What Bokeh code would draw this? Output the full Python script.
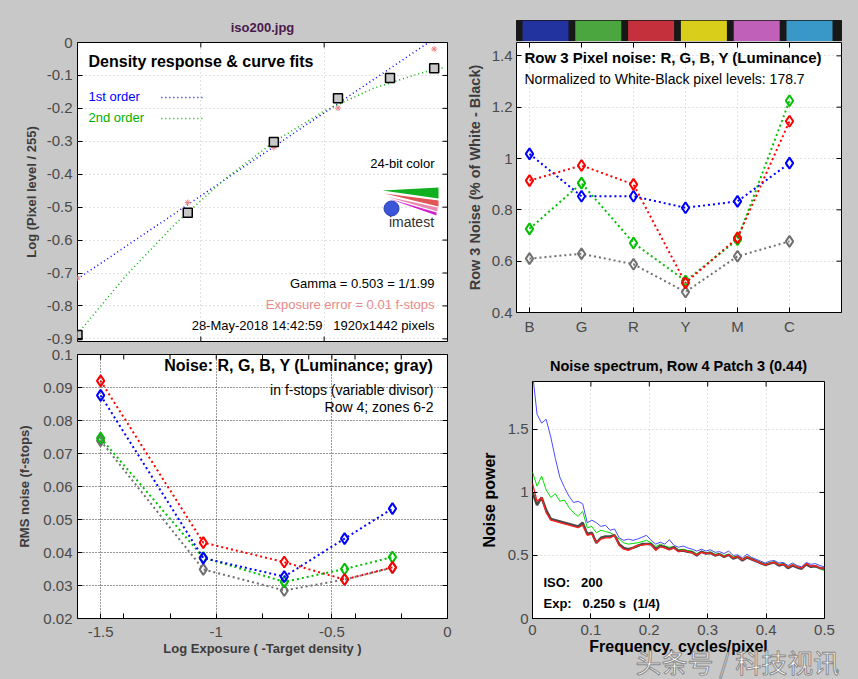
import math
from bokeh.plotting import figure
from bokeh.models import Range1d, FixedTicker, NumeralTickFormatter, Label, Title
from bokeh.layouts import row, column
from bokeh.embed import file_html
from bokeh.resources import INLINE

BG = "#c8c8c8"
FONT = "Liberation Sans"
TICK_COLOR = "#4a4a4a"

# ---------------- data ----------------
# Panel 1: density response (log exposure vs log pixel level)
dens_x = [-1.500, -1.053, -0.704, -0.444, -0.233, -0.054]
dens_y = [-0.888, -0.517, -0.302, -0.169, -0.108, -0.078]
exp_x = [-1.500, -1.053, -0.704, -0.444, -0.054]
exp_y = [-0.715, -0.486, -0.319, -0.199, -0.020]
fit1_x = [-1.500, -0.077, -0.050]
fit1_y = [-0.718, 0.000, 0.000]
fit2_x = [-1.5, -1.3, -1.1, -0.9, -0.7, -0.5, -0.3, -0.1, -0.01]
fit2_y = [-0.885, -0.705, -0.548, -0.413, -0.300, -0.208, -0.139, -0.091, -0.076]
p1_xticks = [-1.0, -0.5]
p1_yticks = [0, -0.1, -0.2, -0.3, -0.4, -0.5, -0.6, -0.7, -0.8, -0.9]

# Panel 2: row 3 pixel noise per color patch
patch_names = ["B", "G", "R", "Y", "M", "C"]
patch_pos = [1, 2, 3, 4, 5, 6]
patch_colors = ["#2233a0", "#4ca640", "#c4303c", "#d9cf1a", "#c060b8", "#3a98c8"]
row3_r = [0.914, 0.973, 0.899, 0.515, 0.691, 1.145]
row3_g = [0.726, 0.904, 0.671, 0.523, 0.684, 1.225]
row3_b = [1.018, 0.853, 0.853, 0.808, 0.833, 0.982]
row3_y = [0.610, 0.629, 0.588, 0.480, 0.619, 0.677]
p2_yticks = [0.4, 0.6, 0.8, 1.0, 1.2, 1.4]

# Panel 3: RMS noise in f-stops
zone_x = [-1.500, -1.056, -0.706, -0.445, -0.238]
noise_r = [0.0920, 0.0430, 0.0371, 0.0318, 0.0355]
noise_g = [0.0747, 0.0385, 0.0311, 0.0350, 0.0386]
noise_b = [0.0876, 0.0383, 0.0327, 0.0442, 0.0533]
noise_y = [0.0739, 0.0349, 0.0285, 0.0318, 0.0354]
p3_xticks = [-1.5, -1.0, -0.5, 0.0]
p3_xminor = [-1.4, -1.2, -0.8, -0.6, -0.4, -0.2]
p3_yticks = [0.02, 0.03, 0.04, 0.05, 0.06, 0.07, 0.08, 0.09, 0.1]

# Panel 4: noise spectrum
freq = [0.0000, 0.0078, 0.0156, 0.0234, 0.0313, 0.0391, 0.0469, 0.0547, 0.0625, 0.0703,
        0.0781, 0.0859, 0.0938, 0.1016, 0.1094, 0.1172, 0.1250, 0.1328, 0.1406, 0.1484,
        0.1563, 0.1641, 0.1719, 0.1797, 0.1875, 0.1953, 0.2031, 0.2109, 0.2188, 0.2266,
        0.2344, 0.2422, 0.2500, 0.2578, 0.2656, 0.2734, 0.2813, 0.2891, 0.2969, 0.3047,
        0.3125, 0.3203, 0.3281, 0.3359, 0.3438, 0.3516, 0.3594, 0.3672, 0.3750, 0.3828,
        0.3906, 0.3984, 0.4063, 0.4141, 0.4219, 0.4297, 0.4375, 0.4453, 0.4531, 0.4609,
        0.4688, 0.4766, 0.4844, 0.4922, 0.5000]
spec_r = [1.07, 0.93, 0.96, 0.84, 0.78, 0.77, 0.76, 0.75, 0.74, 0.73,
          0.72, 0.74, 0.66, 0.67, 0.60, 0.63, 0.64, 0.64, 0.66, 0.58,
          0.55, 0.54, 0.56, 0.58, 0.58, 0.59, 0.585, 0.54, 0.57, 0.56,
          0.545, 0.56, 0.53, 0.54, 0.53, 0.52, 0.505, 0.525, 0.515, 0.52,
          0.50, 0.51, 0.49, 0.505, 0.48, 0.49, 0.465, 0.49, 0.47, 0.455,
          0.44, 0.425, 0.44, 0.445, 0.425, 0.43, 0.405, 0.425, 0.41, 0.40,
          0.435, 0.415, 0.42, 0.40, 0.40]
spec_y = [1.00, 0.90, 0.96, 0.86, 0.79, 0.78, 0.77, 0.76, 0.75, 0.74,
          0.73, 0.76, 0.67, 0.68, 0.60, 0.64, 0.65, 0.65, 0.66, 0.59,
          0.56, 0.55, 0.56, 0.575, 0.59, 0.59, 0.59, 0.55, 0.575, 0.565,
          0.55, 0.565, 0.535, 0.54, 0.53, 0.525, 0.50, 0.53, 0.515, 0.52,
          0.50, 0.51, 0.488, 0.505, 0.475, 0.49, 0.46, 0.485, 0.47, 0.455,
          0.44, 0.425, 0.435, 0.445, 0.42, 0.43, 0.40, 0.42, 0.405, 0.395,
          0.43, 0.41, 0.415, 0.40, 0.395]
spec_g = [1.16, 1.05, 1.13, 1.02, 0.96, 0.99, 0.93, 0.94, 0.88, 0.84,
          0.81, 0.85, 0.72, 0.73, 0.68, 0.70, 0.69, 0.68, 0.66, 0.63,
          0.60, 0.59, 0.595, 0.60, 0.61, 0.62, 0.60, 0.57, 0.59, 0.575,
          0.565, 0.57, 0.545, 0.55, 0.54, 0.535, 0.515, 0.535, 0.52, 0.53,
          0.51, 0.515, 0.50, 0.51, 0.49, 0.495, 0.47, 0.495, 0.475, 0.46,
          0.445, 0.43, 0.445, 0.45, 0.43, 0.435, 0.41, 0.43, 0.41, 0.40,
          0.435, 0.415, 0.42, 0.395, 0.38]
spec_b = [1.95, 1.62, 1.55, 1.58, 1.44, 1.27, 1.12, 1.04, 0.97, 0.92,
          0.93, 0.91, 0.76, 0.78, 0.76, 0.73, 0.74, 0.70, 0.71, 0.64,
          0.62, 0.63, 0.62, 0.63, 0.645, 0.66, 0.62, 0.59, 0.605, 0.59,
          0.625, 0.58, 0.565, 0.575, 0.56, 0.55, 0.535, 0.55, 0.535, 0.545,
          0.525, 0.53, 0.515, 0.535, 0.50, 0.505, 0.48, 0.51, 0.485, 0.47,
          0.455, 0.44, 0.455, 0.46, 0.44, 0.445, 0.42, 0.44, 0.42, 0.41,
          0.445, 0.43, 0.435, 0.42, 0.41]
p4_xticks = [0, 0.1, 0.2, 0.3, 0.4, 0.5]
p4_yticks = [0, 0.5, 1.0, 1.5]


# ---------------- helpers ----------------
def make_fig(w, h, xr, yr, ml, mr, mt, mb, title=None):
    p = figure(width=w, height=h, x_range=Range1d(*xr), y_range=Range1d(*yr),
               output_backend="svg", toolbar_location=None, title=title,
               min_border_left=ml, min_border_right=mr, min_border_top=mt, min_border_bottom=mb)
    p.border_fill_color = BG
    p.background_fill_color = "white"
    p.outline_line_color = "black"
    p.outline_line_width = 1
    try:
        p.frame_align = False
    except Exception:
        pass
    return p


def style_axis(ax, ticker, fmt="0.[00]", size="15px"):
    ax.ticker = ticker
    ax.formatter = NumeralTickFormatter(format=fmt)
    ax.axis_line_color = None
    ax.major_tick_in = 5
    ax.major_tick_out = 0
    ax.minor_tick_in = 5
    ax.minor_tick_out = 0
    ax.major_tick_line_color = "black"
    ax.minor_tick_line_color = "black"
    ax.major_label_text_font = FONT
    ax.major_label_text_font_size = size
    ax.major_label_text_color = TICK_COLOR
    ax.major_label_standoff = 5
    ax.axis_label_text_font = FONT
    ax.axis_label_text_font_style = "bold"
    ax.axis_label_text_font_size = "13px"
    ax.axis_label_text_color = "#3c3c3c"
    ax.axis_label_standoff = 6


def mirror_ticks(p, xticks, xedge_y, yticks, yedge_x):
    # short inward tick marks along the other frame edges (clipped to the frame)
    if xticks:
        p.scatter(xticks, [xedge_y] * len(xticks), marker="dash", size=10, angle=math.pi / 2,
                  line_color="black", line_width=1)
    if yticks:
        p.scatter([yedge_x] * len(yticks), yticks, marker="dash", size=10,
                  line_color="black", line_width=1)


def style_grid(p, xt, yt, color, dash):
    p.xgrid.ticker = xt
    p.ygrid.ticker = yt
    for g in (p.xgrid, p.ygrid):
        g.grid_line_color = color
        g.grid_line_dash = dash
        g.grid_line_width = 1


def add_text(p, x, y, text, size="13px", color="black", bold=False, align="left", font=FONT, **kw):
    p.add_layout(Label(x=x, y=y, text=text, text_font=font, text_font_size=size,
                       text_color=color, text_font_style="bold" if bold else "normal",
                       text_align=align, text_baseline="middle", **kw))


# ---------------- panel 1: density response ----------------
p1 = make_fig(458, 346, (-1.5, 0), (-0.908, 0), 77, 11, 42, 5, title="iso200.jpg")
p1.title.align = "center"
p1.title.text_font = FONT
p1.title.text_font_size = "13px"
p1.title.text_font_style = "bold"
p1.title.text_color = "#4b1a4b"
p1.title.standoff = 15
p1.xaxis.visible = False
yt1 = FixedTicker(ticks=p1_yticks)
style_axis(p1.yaxis[0], yt1, fmt="0.[0]")
p1.yaxis[0].axis_label = "Log (Pixel level / 255)"
p1.yaxis[0].axis_label_standoff = 5
style_grid(p1, FixedTicker(ticks=p1_xticks), yt1, "#c4c4c4", "1 3")
mirror_ticks(p1, p1_xticks, 0, p1_yticks, 0)
mirror_ticks(p1, p1_xticks, -0.908, None, None)

p1.line(fit1_x, fit1_y, line_color="#0000ff", line_width=1.5, line_dash="1 3")
p1.line(fit2_x, fit2_y, line_color="#00b000", line_width=1.5, line_dash="1 3")
p1.scatter(exp_x, exp_y, marker="asterisk", size=6, line_color="#f08080", line_width=1)
p1.scatter(dens_x, dens_y, marker="square", size=9, fill_color="#c8c8c8",
           line_color="black", line_width=1.5)

add_text(p1, -1.4554, -0.0577, "Density response & curve fits", size="16px", bold=True)
add_text(p1, -1.4554, -0.164, "1st order", size="13px", color="#0000ff")
add_text(p1, -1.4554, -0.2277, "2nd order", size="13px", color="#00b000")
p1.line([-1.160, -0.993], [-0.167, -0.167], line_color="#0000ff", line_width=1.5, line_dash="1 3")
p1.line([-1.160, -0.993], [-0.231, -0.231], line_color="#00b000", line_width=1.5, line_dash="1 3")
add_text(p1, -0.0527, -0.3674, "24-bit color", size="13px", align="right")
add_text(p1, -0.0527, -0.7318, "Gamma = 0.503 = 1/1.99", size="13px", align="right")
add_text(p1, -0.0527, -0.7956, "Exposure error = 0.01 f-stops", size="13px",
         color="#e88a8a", align="right")
add_text(p1, -0.0527, -0.8593, "28-May-2018 14:42:59\u00a0\u00a0\u00a01920x1442 pixels",
         size="13px", align="right")

# imatest logo (decoration)
p1.patch([-0.2635, -0.0365, -0.0365], [-0.4494, -0.4403, -0.4737], color="#10b020", line_width=0)
p1.patch([-0.2554, -0.0365, -0.0365], [-0.4585, -0.4798, -0.4980], color="#e05555", line_width=0)
p1.patch([-0.2473, -0.0406, -0.0406], [-0.4676, -0.5010, -0.5132], color="#e888b0", line_width=0)
p1.patch([-0.2392, -0.0446, -0.0446], [-0.4737, -0.5162, -0.5253], color="#d020d0", line_width=0)
p1.scatter([-0.227], [-0.504], marker="circle", size=15, fill_color="#3a55d8", line_color="#2a40b0")
add_text(p1, -0.146, -0.5466, "imatest", size="14px", color="#303030", align="center")

# ---------------- colour bar ----------------
pc = figure(width=400, height=41, x_range=Range1d(0, 6.155), y_range=Range1d(0, 1),
            output_backend="svg", toolbar_location=None, title=None,
            x_axis_location=None, y_axis_location=None,
            min_border_left=58, min_border_right=17, min_border_top=20, min_border_bottom=0)
try:
    pc.frame_align = False
except Exception:
    pass
pc.border_fill_color = BG
pc.background_fill_color = "#181818"
pc.outline_line_color = "#181818"
pc.xgrid.visible = False
pc.ygrid.visible = False
pc.rect(x=[0.549 + i for i in range(6)], y=[0.5] * 6, width=0.871, height=1.0,
        fill_color=patch_colors, line_color=None)

# ---------------- panel 2: row 3 pixel noise ----------------
p2 = make_fig(400, 302, (0.75, 7), (0.4, 1.452), 58, 17, 1, 31)
xt2 = FixedTicker(ticks=patch_pos)
yt2 = FixedTicker(ticks=p2_yticks)
style_axis(p2.xaxis[0], xt2)
p2.xaxis[0].major_label_overrides = {pos: name for pos, name in zip(patch_pos, patch_names)}
style_axis(p2.yaxis[0], yt2, fmt="0.[0]")
p2.yaxis[0].major_label_standoff = 4
p2.yaxis[0].axis_label = "Row 3 Noise (% of White - Black)"
p2.yaxis[0].axis_label_text_font_size = "14.5px"
style_grid(p2, xt2, yt2, "#c4c4c4", "1 3")
mirror_ticks(p2, patch_pos, 1.452, p2_yticks, 7)

for vals, col in ((row3_y, "#707070"), (row3_b, "#0000ff"), (row3_g, "#00c000"), (row3_r, "#ff0000")):
    p2.line(patch_pos, vals, line_color=col, line_width=2, line_dash="2 3")
    p2.scatter(patch_pos, vals, marker="diamond", size=11, fill_alpha=0,
               line_color=col, line_width=2)

add_text(p2, 0.904, 1.394, "Row 3 Pixel noise: R, G, B, Y (Luminance)", size="15px", bold=True)
add_text(p2, 0.904, 1.308, "Normalized to White-Black pixel levels: 178.7", size="14px")

# ---------------- panel 3: RMS noise ----------------
p3 = make_fig(458, 333, (-1.6, 0), (0.02, 0.1), 77, 11, 8, 61)
xt3 = FixedTicker(ticks=p3_xticks, minor_ticks=p3_xminor)
yt3 = FixedTicker(ticks=p3_yticks)
style_axis(p3.xaxis[0], xt3, fmt="0.[0]")
p3.xaxis[0].axis_label = "Log Exposure ( -Target density )"
p3.xaxis[0].major_label_standoff = 8
p3.xaxis[0].axis_label_standoff = 1
style_axis(p3.yaxis[0], yt3, fmt="0.[00]")
p3.yaxis[0].axis_label = "RMS noise (f-stops)"
p3.yaxis[0].axis_label_standoff = 8
style_grid(p3, FixedTicker(ticks=[-1.5, -1.0, -0.5]), yt3, "#303030", "1 2")
mirror_ticks(p3, p3_xticks + p3_xminor, 0.1, p3_yticks, 0)

for vals, col in ((noise_y, "#707070"), (noise_g, "#00c000"), (noise_b, "#0000ff"), (noise_r, "#ff0000")):
    p3.line(zone_x, vals, line_color=col, line_width=2, line_dash="2 3")
    p3.scatter(zone_x, vals, marker="diamond", size=11, fill_alpha=0,
               line_color=col, line_width=2)

add_text(p3, -0.0605, 0.0967, "Noise: R, G, B, Y (Luminance; gray)", size="16px", bold=True, align="right")
add_text(p3, -0.0605, 0.0891, "in f-stops (variable divisor)", size="14px", align="right")
add_text(p3, -0.0605, 0.0840, "Row 4; zones 6-2", size="14px", align="right")

# ---------------- panel 4: noise spectrum ----------------
p4 = make_fig(400, 336, (0, 0.5), (0, 1.88), 74, 34, 38, 61,
              title="Noise spectrum, Row 4 Patch 3 (0.44)")
p4.title.align = "center"
p4.title.text_font = FONT
p4.title.text_font_size = "14.5px"
p4.title.text_font_style = "bold"
p4.title.text_color = "black"
p4.title.standoff = 16
xt4 = FixedTicker(ticks=p4_xticks)
yt4 = FixedTicker(ticks=p4_yticks)
style_axis(p4.xaxis[0], xt4, fmt="0.[0]")
p4.xaxis[0].axis_label = "Frequency, cycles/pixel"
p4.xaxis[0].axis_label_text_font_size = "16px"
p4.xaxis[0].axis_label_text_color = "black"
p4.xaxis[0].major_label_standoff = 6
p4.xaxis[0].axis_label_standoff = 0
style_axis(p4.yaxis[0], yt4, fmt="0.[0]")
p4.yaxis[0].axis_label = "Noise power"
p4.yaxis[0].axis_label_text_font_size = "16px"
p4.yaxis[0].axis_label_text_color = "black"
p4.yaxis[0].major_label_standoff = 4
p4.yaxis[0].axis_label_standoff = 7
style_grid(p4, xt4, yt4, "#c4c4c4", "1 3")
mirror_ticks(p4, p4_xticks, 1.88, p4_yticks, 0.5)

p4.line(freq, spec_b, line_color="#4a4aff", line_width=1)
p4.line(freq, spec_g, line_color="#00e000", line_width=1)
p4.line(freq, spec_y, line_color="#4a4a4a", line_width=2.5)
p4.line(freq, spec_r, line_color="#ff2020", line_width=1.3)

add_text(p4, 0.0188, 0.285, "ISO:\u00a0\u00a0\u00a0200", size="13px", bold=True)
add_text(p4, 0.0188, 0.119, "Exp:\u00a0\u00a0\u00a00.250 s\u00a0\u00a0(1/4)", size="13px", bold=True)

# watermark: a bottom title pulled up over the axis label area
wm = "\u5934\u6761\u53f7 / \u79d1\u6280\u89c6\u8baf"
wm_title = Title(text=wm, align="left", offset=103, standoff=-45, vertical_align="bottom",
                 text_font="Noto Sans CJK SC", text_font_size="26px", text_color="#ffffff",
                 text_font_style="normal")
try:
    wm_title.text_outline_color = "#8a8a8a"
except Exception:
    pass
p4.add_layout(wm_title, "below")

layout = row(column(p1, p3), column(pc, p2, p4))

html = file_html(layout, INLINE)
html = html.replace("</head>", "<style>body{background:#c8c8c8;}</style></head>", 1)
open("out.html", "w").write(html)
